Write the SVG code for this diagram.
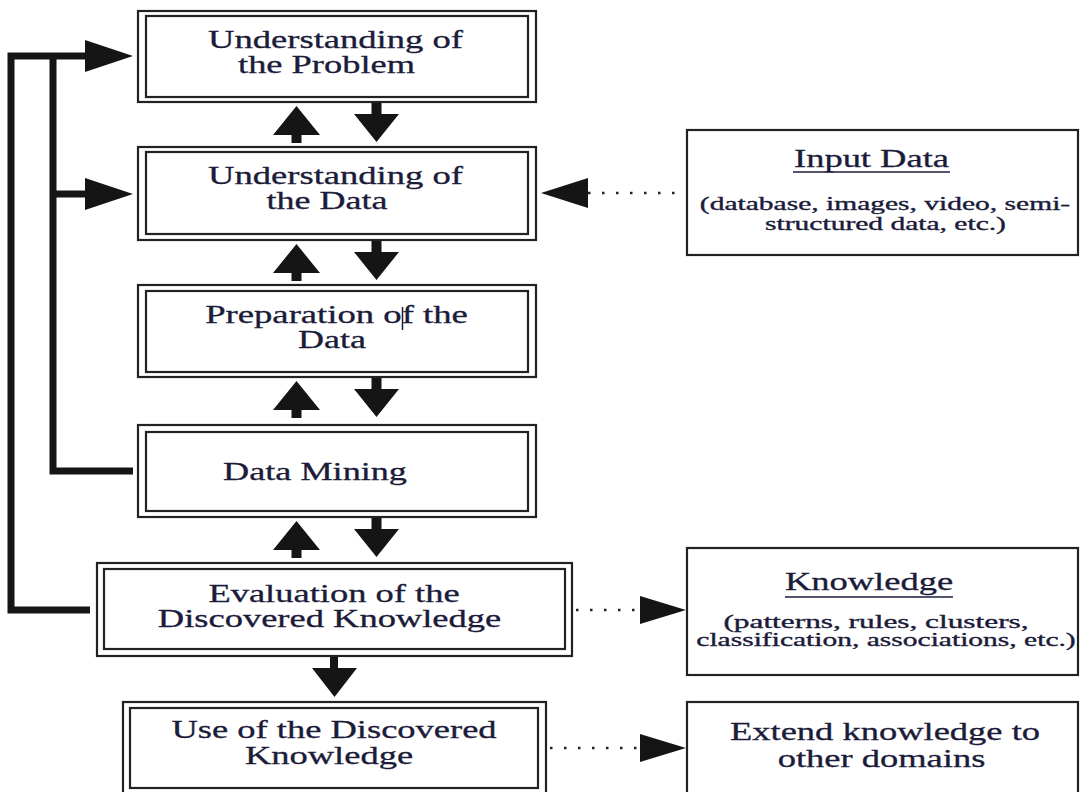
<svg xmlns="http://www.w3.org/2000/svg" width="1081" height="792" viewBox="0 0 1081 792">
<style>
.ob{fill:#fff;stroke:#222;stroke-width:2.2}
.ib{fill:none;stroke:#222;stroke-width:2.2}
.t{font-family:"Liberation Serif","Times New Roman",serif;font-size:25px;fill:#1b1b3a;stroke:#1b1b3a;stroke-width:0.3;text-anchor:middle}
.s{font-family:"Liberation Serif","Times New Roman",serif;font-size:18px;fill:#1b1b3a;stroke:#1b1b3a;stroke-width:0.35;text-anchor:middle}
.fb{fill:none;stroke:#151515;stroke-width:7;stroke-linejoin:miter;stroke-linecap:butt}
.ah{fill:#151515}
.dot{fill:none;stroke:#222;stroke-width:2.5;stroke-dasharray:2.5 11.5}
.ul{stroke:#1b1b3a;stroke-width:1.6}
</style>
<defs>
<path id="up" d="M0,0 L23.5,29 H5 V37 H-5 V29 H-23.5 Z"/>
<path id="dn" d="M-5,0 H5 V11 H22.5 L0,39 L-22.5,11 H-5 Z"/>
</defs>
<rect width="1081" height="792" fill="#fff"/>

<g id="n-problem">
<rect class="ob" x="138" y="11" width="398" height="91"/>
<rect class="ib" x="146" y="16" width="382" height="81"/>
<text class="t" transform="translate(335.5,48) scale(1.463,1)">Understanding of</text>
<text class="t" transform="translate(326.5,73) scale(1.457,1)">the Problem</text>
</g>

<g id="n-data">
<rect class="ob" x="138" y="147" width="398" height="93"/>
<rect class="ib" x="146" y="152" width="382" height="82"/>
<text class="t" transform="translate(335.5,184) scale(1.463,1)">Understanding of</text>
<text class="t" transform="translate(327,209) scale(1.44,1)">the Data</text>
</g>

<g id="n-prep">
<rect class="ob" x="138" y="285" width="398" height="92"/>
<rect class="ib" x="146" y="291" width="382" height="81"/>
<text class="t" transform="translate(336.5,323) scale(1.468,1)">Preparation of the</text>
<text class="t" transform="translate(332,348) scale(1.44,1)">Data</text>
<line x1="402.5" y1="307" x2="402.5" y2="330" stroke="#1b1b3a" stroke-width="1.5"/>
</g>

<g id="n-mining">
<rect class="ob" x="138" y="425" width="398" height="92"/>
<rect class="ib" x="146" y="432" width="382" height="79"/>
<text class="t" transform="translate(315,480) scale(1.448,1)">Data Mining</text>
</g>

<g id="n-eval">
<rect class="ob" x="97" y="563" width="475" height="93"/>
<rect class="ib" x="104" y="569" width="461" height="80"/>
<text class="t" transform="translate(334,602) scale(1.46,1)">Evaluation of the</text>
<text class="t" transform="translate(329.5,627) scale(1.46,1)">Discovered Knowledge</text>
</g>

<g id="n-use">
<rect class="ob" x="123" y="702" width="423" height="94"/>
<rect class="ib" x="130" y="708" width="408" height="80"/>
<text class="t" transform="translate(334,738) scale(1.46,1)">Use of the Discovered</text>
<text class="t" transform="translate(329,764) scale(1.46,1)">Knowledge</text>
</g>

<g id="n-input">
<rect class="ob" x="687" y="130" width="391" height="125"/>
<text class="t" transform="translate(871.5,167) scale(1.46,1)">Input Data</text>
<line class="ul" x1="793" y1="172" x2="950" y2="172"/>
<text class="s" transform="translate(885,210) scale(1.64,1)">(database, images, video, semi-</text>
<text class="s" transform="translate(885.5,230) scale(1.64,1)">structured data, etc.)</text>
</g>

<g id="n-knowledge">
<rect class="ob" x="687" y="548" width="391" height="127"/>
<text class="t" transform="translate(869,590) scale(1.46,1)">Knowledge</text>
<line class="ul" x1="785" y1="597" x2="953" y2="597"/>
<text class="s" transform="translate(876,628) scale(1.74,1)">(patterns, rules, clusters,</text>
<text class="s" transform="translate(886,646) scale(1.64,1)">classification, associations, etc.)</text>
</g>

<g id="n-extend">
<rect class="ob" x="687" y="702" width="391" height="100"/>
<text class="t" transform="translate(885,740) scale(1.46,1)">Extend knowledge to</text>
<text class="t" transform="translate(881.5,767) scale(1.46,1)">other domains</text>
</g>

<g id="connectors">
<path class="fb" d="M90,610 H11 V56 H86"/>
<path class="fb" d="M133,471 H53 V56"/>
<path class="fb" d="M53,194 H86"/>
<polygon class="ah" points="85,40 133,56 85,72"/>
<polygon class="ah" points="85,178 133,194 85,210"/>

<use href="#up" class="ah" x="296.5" y="106"/>
<use href="#dn" class="ah" x="376.5" y="103"/>
<use href="#up" class="ah" x="296.5" y="244"/>
<use href="#dn" class="ah" x="376.5" y="241"/>
<use href="#up" class="ah" x="296.5" y="381"/>
<use href="#dn" class="ah" x="376.5" y="378"/>
<use href="#up" class="ah" x="296.5" y="521"/>
<use href="#dn" class="ah" x="376.5" y="518"/>
<path class="ah" d="M330,657 H338 V668 H357 L334.5,697 L312,668 H330 Z"/>

<line class="dot" x1="588" y1="193" x2="686" y2="193"/>
<polygon class="ah" points="588,178 541,193 588,208"/>
<line class="dot" x1="576" y1="610" x2="640" y2="610"/>
<polygon class="ah" points="640,596 686,610 640,624"/>
<line class="dot" x1="550" y1="748" x2="640" y2="748"/>
<polygon class="ah" points="640,734 686,748 640,762"/>
</g>
</svg>
